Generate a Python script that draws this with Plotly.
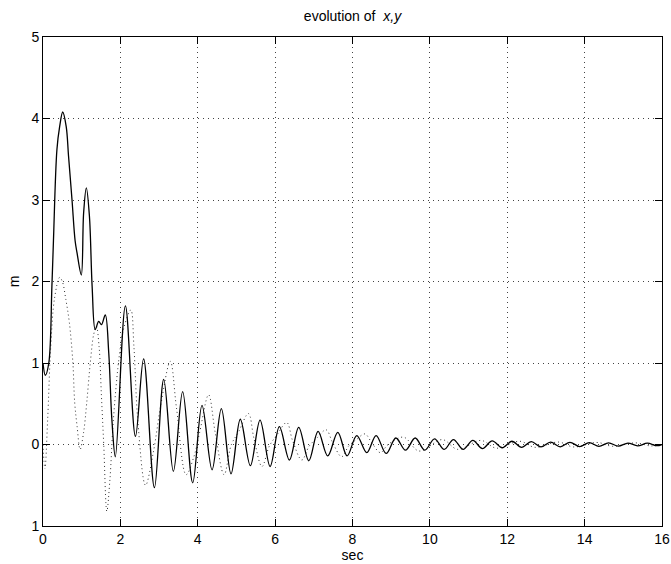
import plotly.graph_objects as go

# ---- data ----
t_x = [0.0, 0.06, 0.15, 0.23, 0.27, 0.36, 0.43, 0.51, 0.60, 0.66, 0.75, 0.83, 0.88, 0.99,
       1.05, 1.12, 1.20, 1.27, 1.35, 1.44, 1.51, 1.61, 1.70, 1.78, 1.87, 2.13, 2.39, 2.60,
       2.88, 3.12, 3.37, 3.61, 3.87, 4.11, 4.37, 4.61, 4.86, 5.10, 5.36, 5.61, 5.87, 6.11,
       6.37, 6.61, 6.87, 7.11, 7.36, 7.62, 7.86, 8.11, 8.37, 8.61, 8.87, 9.12, 9.37, 9.62,
       9.87, 10.12, 10.37, 10.61, 10.86, 11.11, 11.36, 11.61, 11.87, 12.12, 12.37, 12.62,
       12.87, 13.12, 13.37, 13.62, 13.87, 14.12, 14.37, 14.62, 14.87, 15.12, 15.37, 15.62,
       15.87, 16.0]
x_vals = [1.0, 0.85, 1.0, 1.94, 2.5, 3.62, 3.9, 4.08, 3.9, 3.54, 3.0, 2.5, 2.35, 2.08,
          2.84, 3.15, 2.8, 1.94, 1.41, 1.51, 1.47, 1.59, 1.12, 0.31, -0.15, 1.70, 0.10, 1.05,
          -0.53, 0.80, -0.33, 0.65, -0.47, 0.48, -0.31, 0.44, -0.36, 0.31, -0.26, 0.30, -0.27, 0.22,
          -0.19, 0.21, -0.20, 0.16, -0.14, 0.15, -0.14, 0.11, -0.10, 0.11, -0.11, 0.08, -0.07, 0.08,
          -0.07, 0.07, -0.06, 0.06, -0.06, 0.05, -0.05, 0.045, -0.04, 0.04, -0.035, 0.035,
          -0.03, 0.03, -0.028, 0.027, -0.025, 0.023, -0.022, 0.02, -0.02, 0.018, -0.017, 0.016,
          -0.015, 0.0]

t_y = [0.0, 0.05, 0.12, 0.20, 0.30, 0.43, 0.50, 0.59, 0.68, 0.77, 0.82, 0.88, 0.96, 1.05,
       1.13, 1.22, 1.31, 1.38, 1.45, 1.51, 1.57, 1.65, 1.73, 1.82, 1.98, 2.10, 2.27, 2.35,
       2.45, 2.65, 2.85, 3.05, 3.29, 3.45, 3.70, 3.90, 4.05, 4.28, 4.45, 4.68, 4.87, 5.05,
       5.31, 5.45, 5.66, 5.85, 6.05, 6.30, 6.45, 6.69, 6.88, 7.08, 7.32, 7.48, 7.72, 7.90,
       8.10, 8.32, 8.50, 8.72, 8.92, 9.32, 9.72, 10.32, 10.72, 11.32, 11.72, 12.32, 12.72,
       13.32, 13.72, 14.32, 14.72, 15.32, 15.72, 16.0]
y_vals = [0.0, -0.3, 0.3, 1.2, 1.8, 2.05, 2.0, 1.78, 1.5, 1.02, 0.51, 0.23, -0.06, 0.15,
          0.51, 0.99, 1.35, 1.45, 1.2, 0.6, 0.0, -0.82, -0.43, 0.31, 1.12, 1.45, 1.65, 1.2,
          0.3, -0.5, -0.1, 0.5, 1.02, 0.45, -0.37, -0.15, 0.15, 0.61, 0.15, -0.37, 0.0, 0.15,
          0.38, 0.08, -0.27, -0.02, 0.12, 0.27, 0.05, -0.19, -0.02, 0.08, 0.18, 0.03, -0.15, -0.02,
          0.06, 0.13, 0.02, -0.10, 0.0, 0.09, -0.08, 0.06, -0.06, 0.05, -0.045, 0.04, -0.035,
          0.03, -0.03, 0.025, -0.022, 0.02, -0.018, 0.0]

x_ticks = [0, 2, 4, 6, 8, 10, 12, 14, 16]
y_ticks = [-1, 0, 1, 2, 3, 4, 5]
y_ticktext = ["1", "0", "1", "2", "3", "4", "5"]

FONT = "Helvetica, Arial, Liberation Sans, sans-serif"
FS = 14

fig = go.Figure()
fig.add_trace(go.Scatter(x=t_y, y=y_vals, mode="lines",
                         line=dict(color="#333333", width=1, dash="1px,3px", shape="spline", smoothing=1.0),
                         showlegend=False, hoverinfo="skip"))
fig.add_trace(go.Scatter(x=t_x, y=x_vals, mode="lines",
                         line=dict(color="black", width=1.3, shape="spline", smoothing=1.0),
                         showlegend=False, hoverinfo="skip"))

axis_common = dict(
    showline=True, linecolor="black", linewidth=1, mirror="allticks",
    ticks="inside", ticklen=7, tickwidth=1, tickcolor="black",
    showgrid=True, gridcolor="#444444", gridwidth=1, griddash="1px,4px",
    zeroline=False, automargin=False,
    tickfont=dict(family=FONT, size=FS, color="black"),
)

fig.update_xaxes(range=[0, 16], tickvals=x_ticks, ticktext=[str(v) for v in x_ticks],
                 title=dict(text="sec", font=dict(family=FONT, size=FS, color="black"), standoff=4),
                 **axis_common)
fig.update_yaxes(range=[-1, 5], tickvals=y_ticks, ticktext=y_ticktext,
                 title=dict(text="m", font=dict(family=FONT, size=FS, color="black"), standoff=8),
                 **axis_common)

fig.update_layout(
    width=671, height=564,
    margin=dict(l=43, r=9, t=37, b=38, pad=0),
    paper_bgcolor="white", plot_bgcolor="white",
    font=dict(family=FONT, size=FS, color="black"),
    title=dict(text="evolution of  <i>x,y</i>", x=0.5, xref="paper", xanchor="center",
               y=1 - 16.5 / 564, yref="container", yanchor="middle",
               font=dict(family=FONT, size=FS, color="black")),
)

# remove the default 8px page margin so the 671x564 figure fills the window exactly
fig.write_html("out.html",
               config={"displayModeBar": False, "staticPlot": True},
               post_script="document.body.style.margin='0';document.body.style.overflow='hidden';")
